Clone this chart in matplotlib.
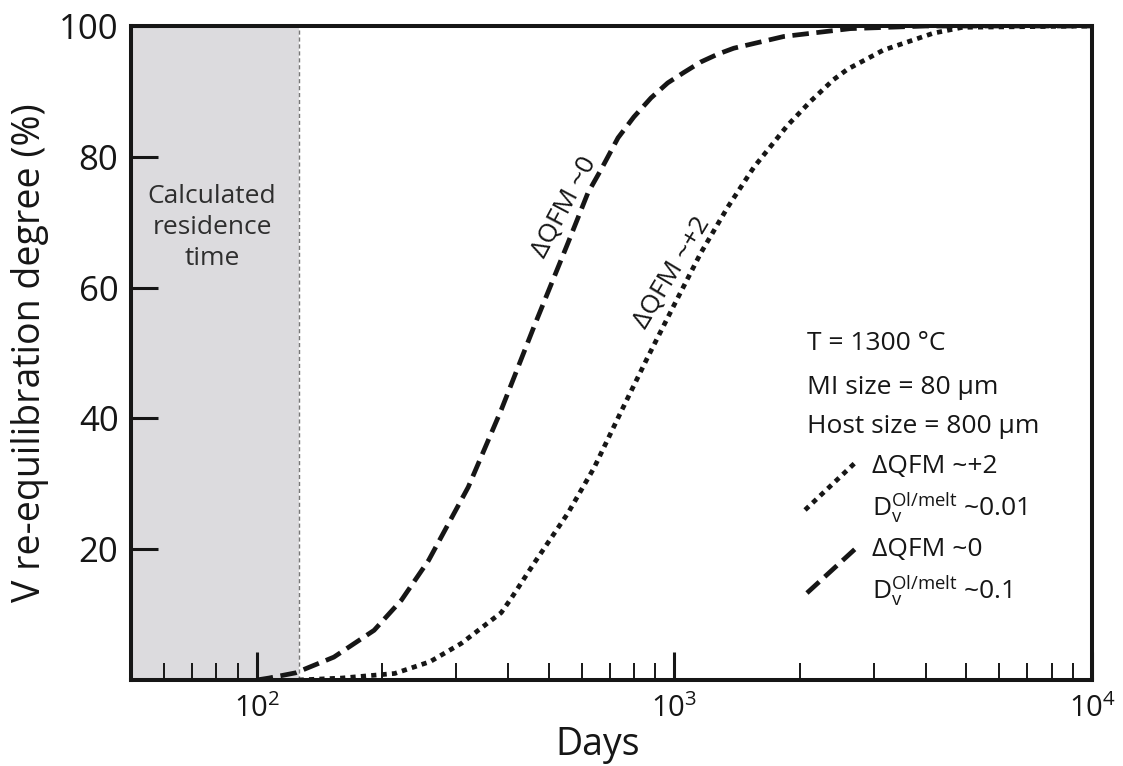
import matplotlib
matplotlib.use("Agg")
import matplotlib.pyplot as plt
from matplotlib.ticker import LogLocator, NullFormatter

# ---- data ----
days_qfm0 = [100, 107, 124, 153, 191, 222, 258, 321, 385, 461, 556, 621, 667, 733, 800,
             879, 964, 1054, 1157, 1271, 1387, 1829, 2640, 4000, 10000]
pct_qfm0 = [0.0, 0.3, 1.1, 3.5, 7.6, 12.2, 18.3, 29.5, 41.3, 54.0, 66.8, 74.5, 78.0, 82.9,
            86.1, 89.0, 91.3, 92.9, 94.5, 95.7, 96.6, 98.4, 99.6, 100.0, 100.0]

days_qfm2 = [126, 160, 214, 260, 309, 385, 406, 462, 556, 643, 745, 864, 998, 1157,
             1342, 1550, 1866, 2120, 2405, 2600, 3162, 4170, 4900, 10000]
pct_qfm2 = [0.0, 0.3, 1.0, 2.8, 5.6, 10.3, 12.4, 17.9, 25.5, 32.5, 41.0, 49.4, 57.3, 65.3,
            72.3, 78.4, 84.8, 88.5, 91.8, 93.4, 96.3, 98.9, 99.8, 100.0]

residence_time_days = 126
x_range = [50, 10000]
y_range = [0, 100]
y_ticks = [20, 40, 60, 80, 100]

# ---- style ----
plt.rcParams['font.family'] = ['Open Sans', 'DejaVu Sans']
plt.rcParams['mathtext.fontset'] = 'custom'
plt.rcParams['mathtext.rm'] = 'Open Sans'
plt.rcParams['mathtext.it'] = 'Open Sans:italic'
plt.rcParams['mathtext.bf'] = 'Open Sans:bold'
plt.rcParams['mathtext.sf'] = 'Open Sans'

ink = '#161616'

fig = plt.figure(figsize=(11.23, 7.66), dpi=100)
ax = fig.add_axes([131 / 1123, 1 - 680 / 766, 961 / 1123, 654 / 766])
ax.set_xscale('log')
ax.set_xlim(*x_range)
ax.set_ylim(*y_range)

# shaded residence time
ax.axvspan(x_range[0], residence_time_days, color='#dcdbde', lw=0, zorder=0)
ax.axvline(residence_time_days, color='#777777', lw=1.0, dashes=(3, 2), zorder=1)

# curves
ax.plot(days_qfm2, pct_qfm2, color=ink, lw=3.4, dashes=(1.1, 1.1),
        dash_capstyle='butt', zorder=3)
ax.plot(days_qfm0, pct_qfm0, color=ink, lw=3.4, dashes=(3.5, 1.6),
        dash_capstyle='butt', zorder=3)

# spines
for s in ax.spines.values():
    s.set_linewidth(2.9)
    s.set_color(ink)
    s.set_zorder(5)

# ticks
ax.xaxis.set_major_locator(LogLocator(base=10, numticks=10))
ax.xaxis.set_minor_locator(LogLocator(base=10, subs=range(2, 10), numticks=30))
ax.xaxis.set_minor_formatter(NullFormatter())
ax.tick_params(axis='x', which='major', direction='in', length=20, width=2.2,
               labelsize=21, pad=10, top=False, colors=ink)
ax.tick_params(axis='x', which='minor', direction='in', length=12, width=1.4,
               top=False, colors=ink)
ax.set_yticks(y_ticks)
ax.tick_params(axis='y', which='major', direction='in', length=19.5, width=2.2,
               labelsize=25, pad=9, right=False, colors=ink)
ax.tick_params(axis='y', which='minor', left=False, right=False)

# axis labels
ax.set_xlabel('Days', fontsize=27, color=ink)
ax.xaxis.label.set_va('center')
ax.xaxis.set_label_coords(0.486, -0.099)
ax.set_ylabel('V re-equilibration degree (%)', fontsize=27, color=ink)
ax.yaxis.label.set_va('center')
ax.yaxis.set_label_coords(-0.105, 0.5)

# shaded region label
ax.text(0.0843, 0.692, 'Calculated\nresidence\ntime', transform=ax.transAxes,
        ha='center', va='center', fontsize=19, color='#2e2e2e', linespacing=1.3)

# curve labels
ax.text(0.4516, 0.7232, 'ΔQFM ~0', transform=ax.transAxes, ha='center', va='center',
        rotation=62, fontsize=19, color=ink)
ax.text(0.563, 0.622, 'ΔQFM ~+2', transform=ax.transAxes, ha='center', va='center',
        rotation=59, fontsize=19, color=ink)

# annotation block
fs = 19
ax.text(0.7034, 0.515, 'T = 1300 °C', transform=ax.transAxes, ha='left', va='center',
        fontsize=fs, color=ink)
ax.text(0.7034, 0.448, 'MI size = 80 µm', transform=ax.transAxes, ha='left', va='center',
        fontsize=fs, color=ink)
ax.text(0.7034, 0.387, 'Host size = 800 µm', transform=ax.transAxes, ha='left',
        va='center', fontsize=fs, color=ink)
ax.text(0.771, 0.326, 'ΔQFM ~+2', transform=ax.transAxes, ha='left', va='center',
        fontsize=fs, color=ink)
ax.text(0.771, 0.262, r'D$_\mathregular{v}^\mathregular{Ol/melt}$ ~0.01',
        transform=ax.transAxes, ha='left', va='center', fontsize=fs, color=ink)
ax.text(0.771, 0.199, 'ΔQFM ~0', transform=ax.transAxes, ha='left', va='center',
        fontsize=fs, color=ink)
ax.text(0.771, 0.136, r'D$_\mathregular{v}^\mathregular{Ol/melt}$ ~0.1',
        transform=ax.transAxes, ha='left', va='center', fontsize=fs, color=ink)

# legend samples
ax.plot([0.7014, 0.7534], [0.260, 0.332], transform=ax.transAxes, color=ink, lw=3.4,
        dashes=(1.1, 1.1), dash_capstyle='butt')
ax.plot([0.7034, 0.7555], [0.133, 0.203], transform=ax.transAxes, color=ink, lw=3.4,
        dashes=(3.5, 1.6), dash_capstyle='butt')

fig.savefig('out.png', dpi=100)
